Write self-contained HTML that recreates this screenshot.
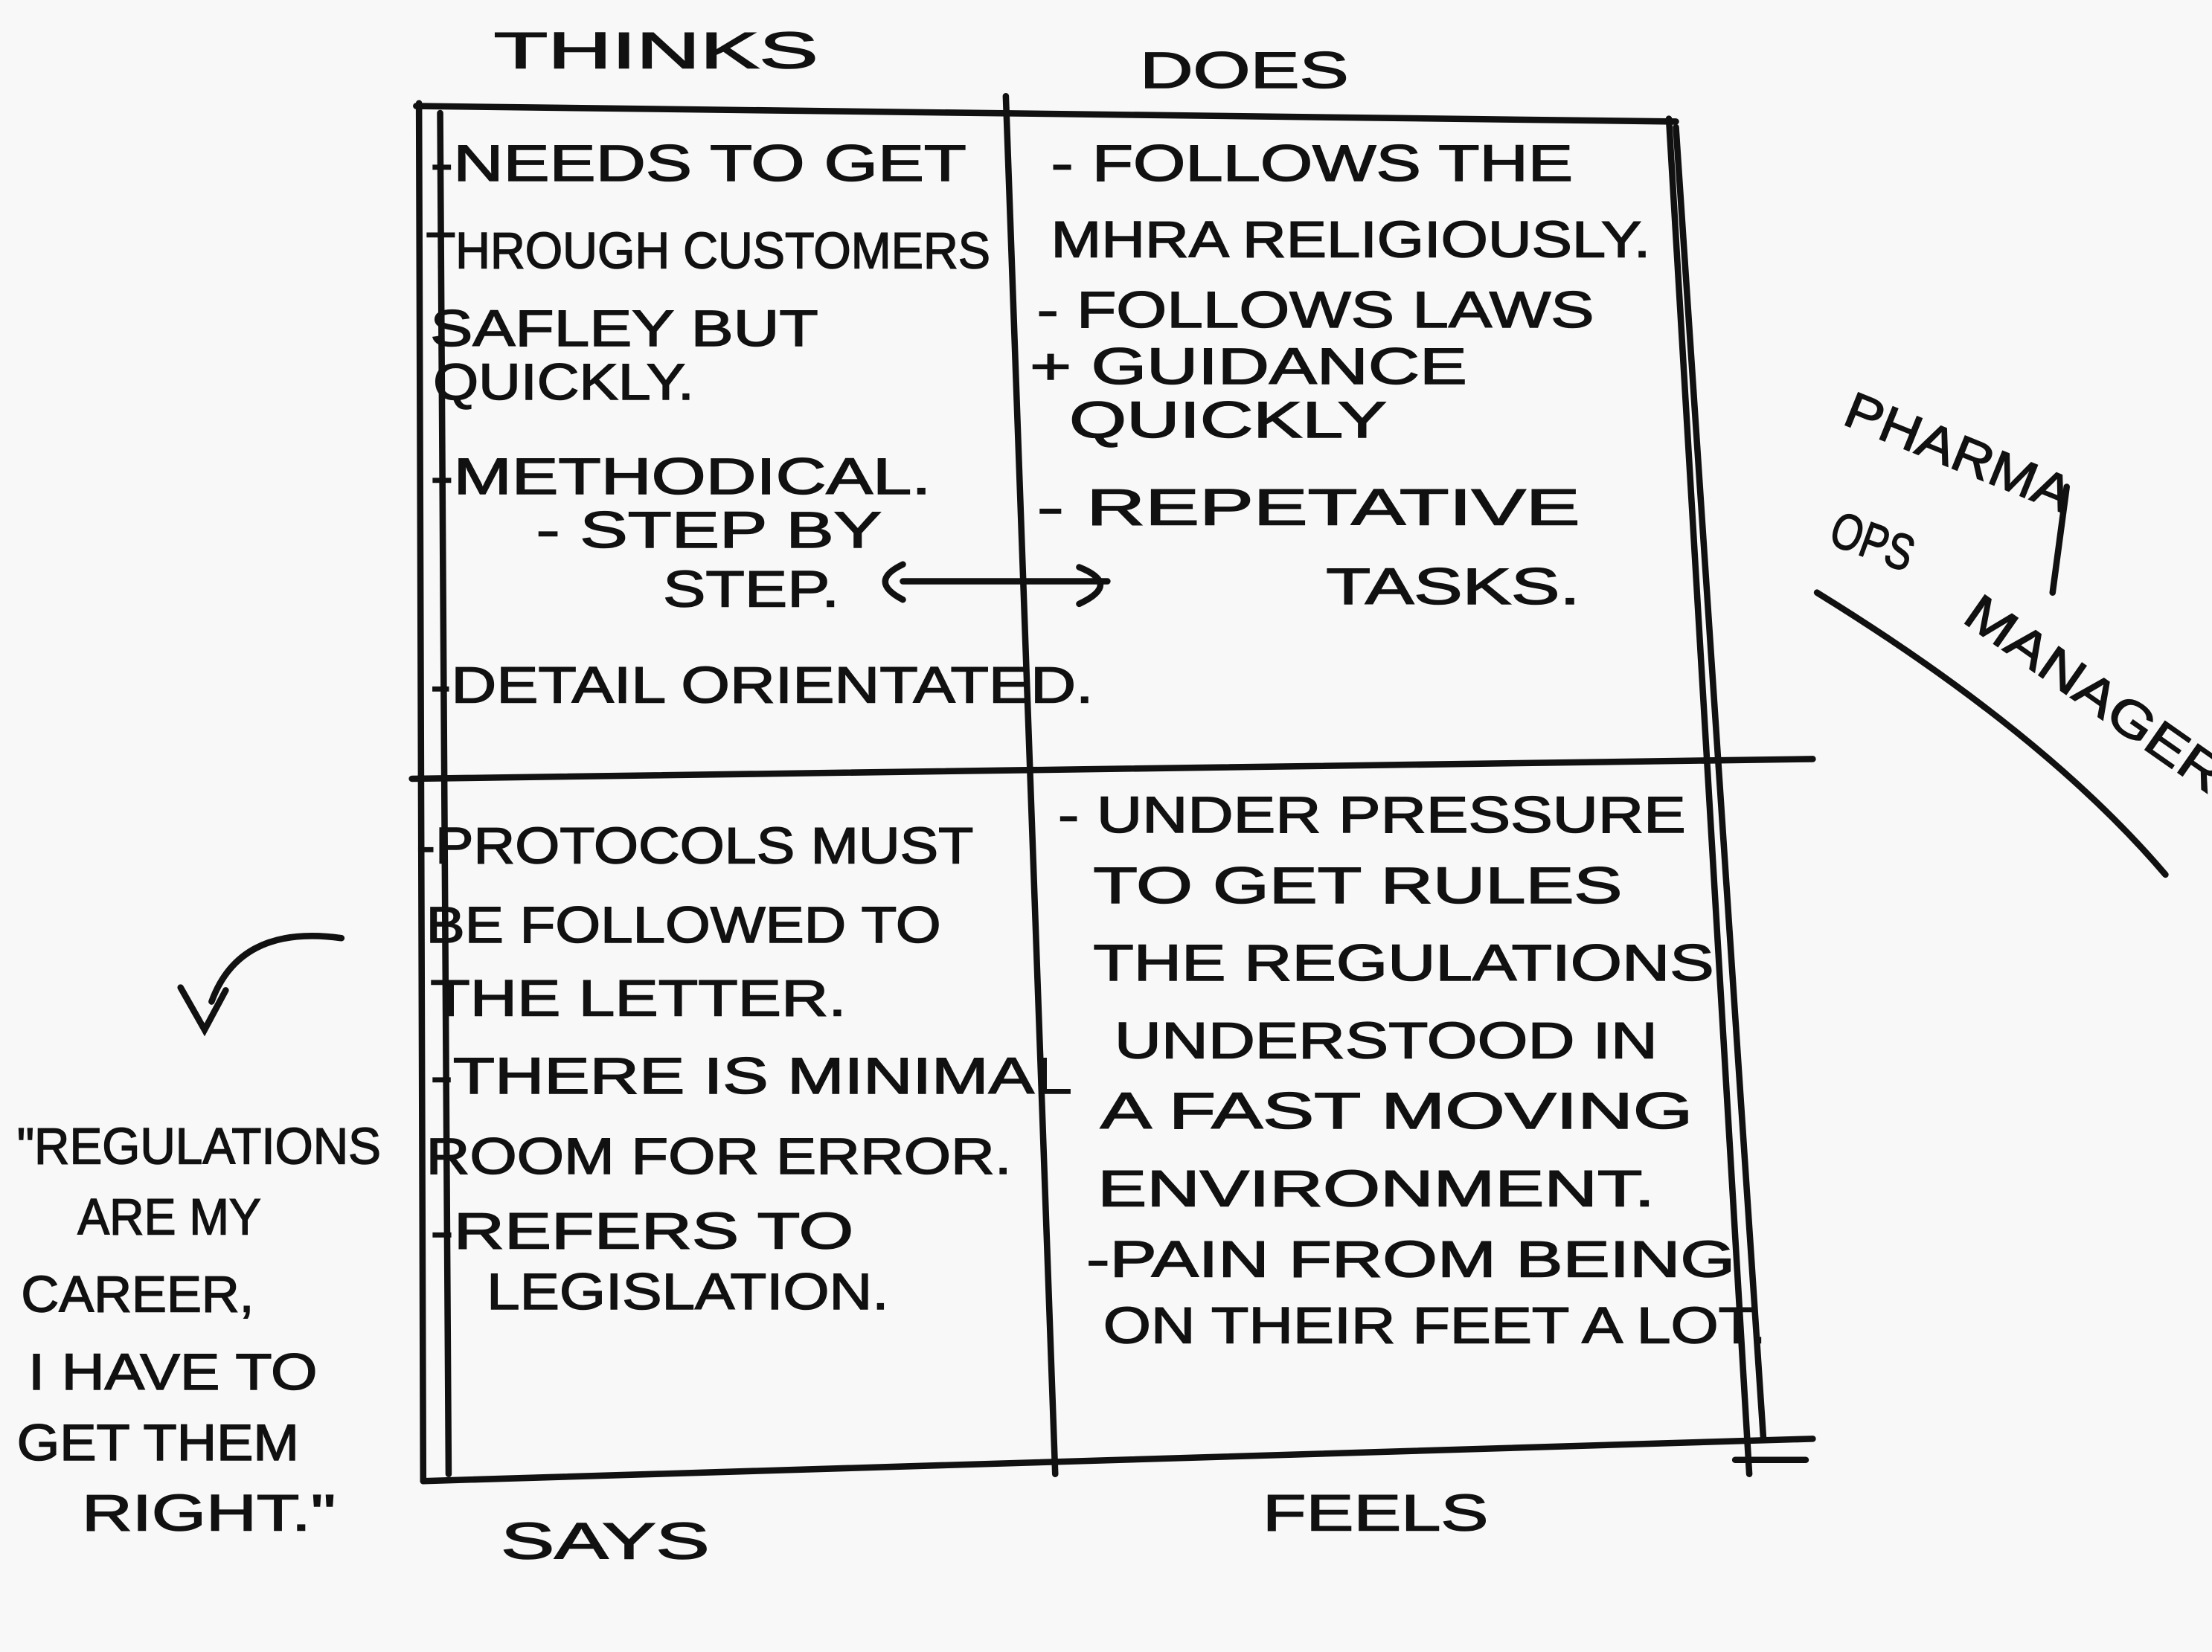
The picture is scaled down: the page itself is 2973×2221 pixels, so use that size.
<!DOCTYPE html>
<html><head><meta charset="utf-8">
<style>
html,body{margin:0;padding:0;background:#f8f8f8;}
svg{display:block;}
text{font-family:"Liberation Sans",sans-serif;fill:#111;font-size:36px;stroke:#111;stroke-width:0.8px;}
</style></head>
<body>
<svg width="2973" height="2221" viewBox="0 0 1568 1171" xmlns="http://www.w3.org/2000/svg">
<rect width="1568" height="1171" fill="#f8f8f8"/>
<g stroke="#111" stroke-width="4.5" fill="none" stroke-linecap="round">
<path d="M295 75 L1188 86"/>
<path d="M297 73 L300 1050"/>
<path d="M312 80 L318 1045"/>
<path d="M1183 84 L1240 1045"/>
<path d="M1188 90 L1250 1020"/>
<path d="M300 1050 L1285 1020"/>
<path d="M1230 1035 L1280 1035"/>
<path d="M713 68 L748 1045"/>
<path d="M292 552 L1285 538"/>
<path d="M640 412 L785 412"/>
<path d="M640 400 Q615 412 640 425"/>
<path d="M765 402 Q795 414 765 428"/>
<path d="M242 665 Q170 655 150 710"/>
<path d="M128 700 L145 730 L160 702"/>
<path d="M1288 420 Q1450 520 1535 620"/>
<path d="M1465 345 L1455 420"/>
</g>
<text x="350" y="48" textLength="230" lengthAdjust="spacingAndGlyphs">THINKS</text>
<text x="808" y="62" textLength="148" lengthAdjust="spacingAndGlyphs">DOES</text>
<text x="355" y="1105" textLength="148" lengthAdjust="spacingAndGlyphs">SAYS</text>
<text x="895" y="1085" textLength="160" lengthAdjust="spacingAndGlyphs">FEELS</text>
<g font-size="36">
<text x="305" y="128" textLength="380" lengthAdjust="spacingAndGlyphs">-NEEDS TO GET</text>
<text x="302" y="190" textLength="400" lengthAdjust="spacingAndGlyphs">THROUGH CUSTOMERS</text>
<text x="305" y="245" textLength="275" lengthAdjust="spacingAndGlyphs">SAFLEY BUT</text>
<text x="307" y="283" textLength="185" lengthAdjust="spacingAndGlyphs">QUICKLY.</text>
<text x="305" y="350" textLength="355" lengthAdjust="spacingAndGlyphs">-METHODICAL.</text>
<text x="380" y="388" textLength="245" lengthAdjust="spacingAndGlyphs">- STEP BY</text>
<text x="470" y="430" textLength="125" lengthAdjust="spacingAndGlyphs">STEP.</text>
<text x="305" y="498" textLength="470" lengthAdjust="spacingAndGlyphs">-DETAIL ORIENTATED.</text>

<text x="745" y="128" textLength="370" lengthAdjust="spacingAndGlyphs">- FOLLOWS THE</text>
<text x="745" y="182" textLength="425" lengthAdjust="spacingAndGlyphs">MHRA RELIGIOUSLY.</text>
<text x="735" y="232" textLength="395" lengthAdjust="spacingAndGlyphs">- FOLLOWS LAWS</text>
<text x="730" y="272" textLength="310" lengthAdjust="spacingAndGlyphs">+ GUIDANCE</text>
<text x="758" y="310" textLength="225" lengthAdjust="spacingAndGlyphs">QUICKLY</text>
<text x="735" y="372" textLength="385" lengthAdjust="spacingAndGlyphs">- REPETATIVE</text>
<text x="940" y="428" textLength="180" lengthAdjust="spacingAndGlyphs">TASKS.</text>

<text x="295" y="612" textLength="395" lengthAdjust="spacingAndGlyphs">-PROTOCOLS MUST</text>
<text x="302" y="668" textLength="365" lengthAdjust="spacingAndGlyphs">BE FOLLOWED TO</text>
<text x="305" y="720" textLength="295" lengthAdjust="spacingAndGlyphs">THE LETTER.</text>
<text x="305" y="775" textLength="455" lengthAdjust="spacingAndGlyphs">-THERE IS MINIMAL</text>
<text x="302" y="832" textLength="415" lengthAdjust="spacingAndGlyphs">ROOM FOR ERROR.</text>
<text x="305" y="885" textLength="300" lengthAdjust="spacingAndGlyphs">-REFERS TO</text>
<text x="345" y="928" textLength="285" lengthAdjust="spacingAndGlyphs">LEGISLATION.</text>

<text x="750" y="590" textLength="445" lengthAdjust="spacingAndGlyphs">- UNDER PRESSURE</text>
<text x="775" y="640" textLength="375" lengthAdjust="spacingAndGlyphs">TO GET RULES</text>
<text x="775" y="695" textLength="440" lengthAdjust="spacingAndGlyphs">THE REGULATIONS</text>
<text x="790" y="750" textLength="385" lengthAdjust="spacingAndGlyphs">UNDERSTOOD IN</text>
<text x="780" y="800" textLength="420" lengthAdjust="spacingAndGlyphs">A FAST MOVING</text>
<text x="778" y="855" textLength="395" lengthAdjust="spacingAndGlyphs">ENVIRONMENT.</text>
<text x="770" y="905" textLength="460" lengthAdjust="spacingAndGlyphs">-PAIN FROM BEING</text>
<text x="782" y="952" textLength="470" lengthAdjust="spacingAndGlyphs">ON THEIR FEET A LOT.</text>

<text x="12" y="825" textLength="258" lengthAdjust="spacingAndGlyphs">"REGULATIONS</text>
<text x="55" y="875" textLength="130" lengthAdjust="spacingAndGlyphs">ARE MY</text>
<text x="15" y="930" textLength="165" lengthAdjust="spacingAndGlyphs">CAREER,</text>
<text x="20" y="985" textLength="205" lengthAdjust="spacingAndGlyphs">I HAVE TO</text>
<text x="12" y="1035" textLength="200" lengthAdjust="spacingAndGlyphs">GET THEM</text>
<text x="58" y="1085" textLength="180" lengthAdjust="spacingAndGlyphs">RIGHT."</text>
</g>
<text x="0" y="0" transform="translate(1305,300) rotate(22)" textLength="170" lengthAdjust="spacingAndGlyphs">PHARMA</text>
<text x="0" y="0" transform="translate(1295,385) rotate(20)" textLength="60" lengthAdjust="spacingAndGlyphs">OPS</text>
<text x="0" y="0" transform="translate(1390,440) rotate(35)" textLength="215" lengthAdjust="spacingAndGlyphs">MANAGER</text>
</svg>
</body></html>
